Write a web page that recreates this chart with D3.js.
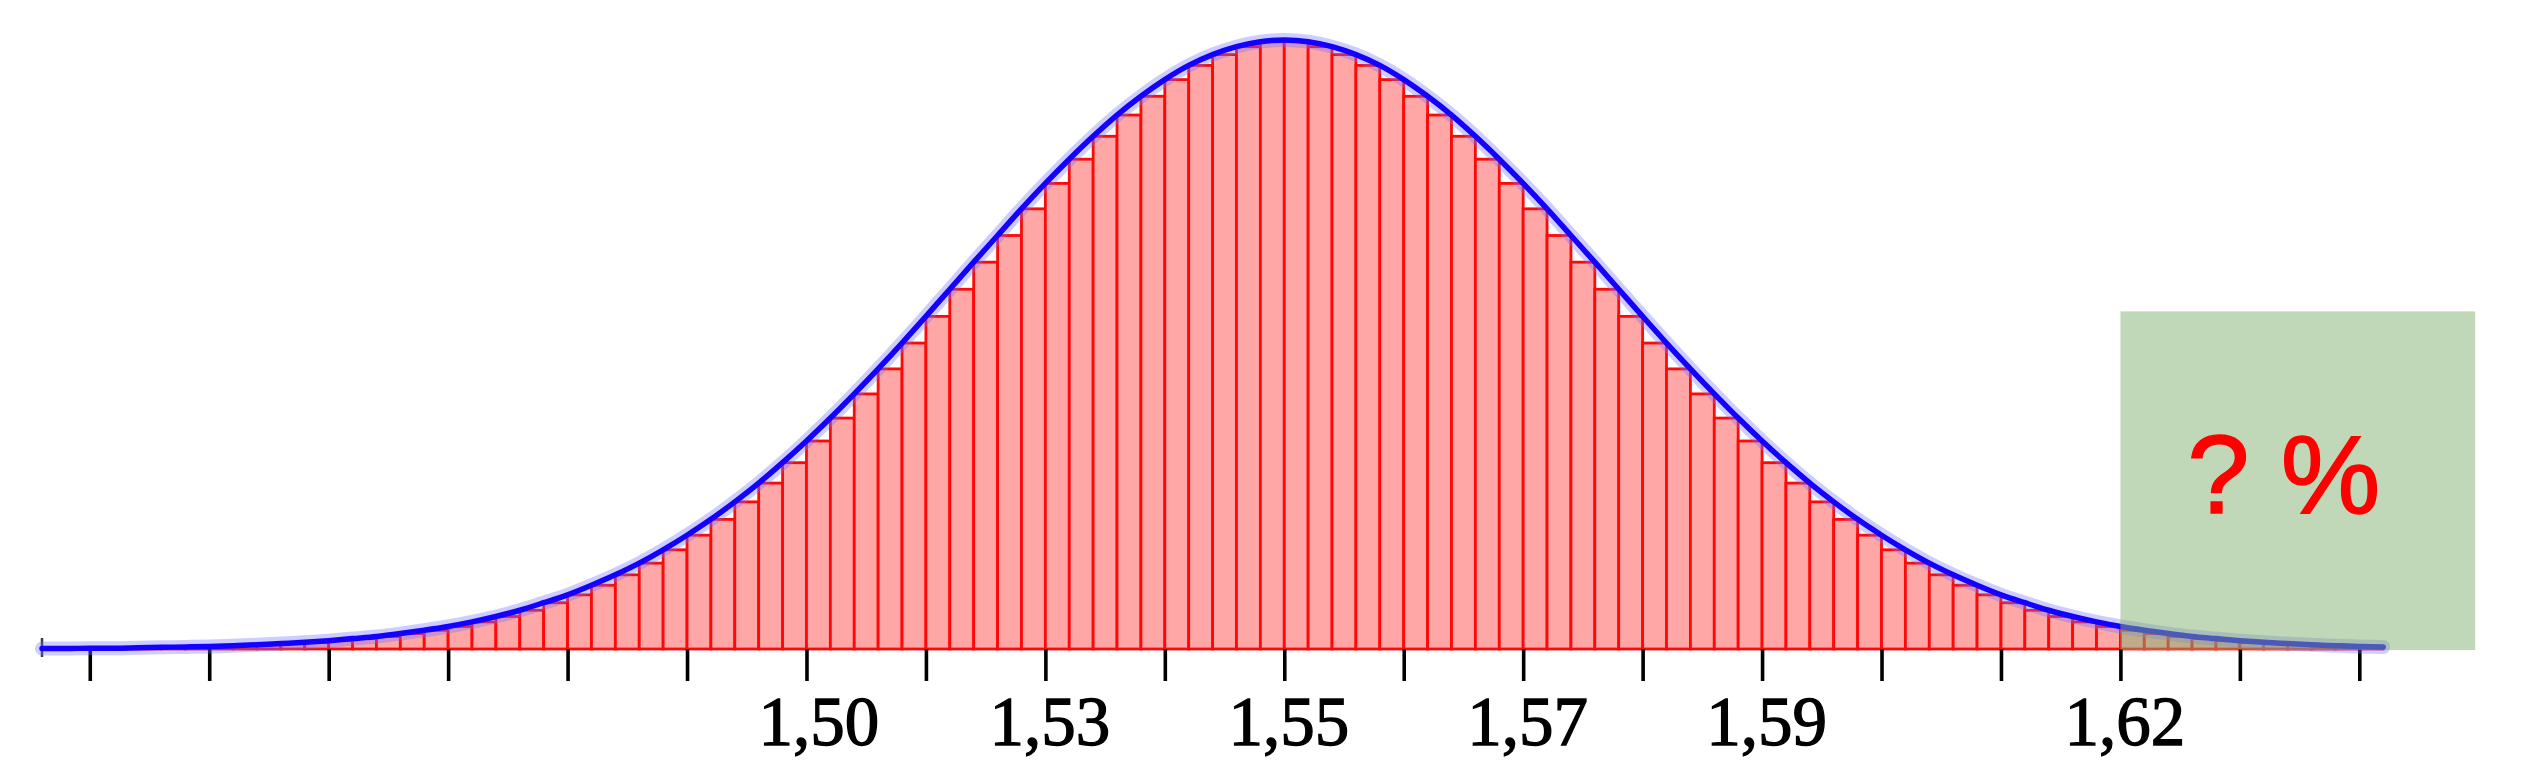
<!DOCTYPE html>
<html>
<head>
<meta charset="utf-8">
<script src="https://cdn.jsdelivr.net/npm/d3@7"></script>
<style>
body { margin:0; background:#fff; }
</style>
</head>
<body>
<div id="chart"></div>
<script>
// bin edges (value of the measured quantity)
var binEdges = [1.446,1.448,1.450,1.452,1.454,1.456,1.458,1.460,1.462,1.464,
	1.466,1.468,1.470,1.472,1.474,1.476,1.478,1.480,1.482,1.484,
	1.486,1.488,1.490,1.492,1.494,1.496,1.498,1.500,1.502,1.504,
	1.506,1.508,1.510,1.512,1.514,1.516,1.518,1.520,1.522,1.524,
	1.526,1.528,1.530,1.532,1.534,1.536,1.538,1.540,1.542,1.544,
	1.546,1.548,1.550,1.552,1.554,1.556,1.558,1.560,1.562,1.564,
	1.566,1.568,1.570,1.572,1.574,1.576,1.578,1.580,1.582,1.584,
	1.586,1.588,1.590,1.592,1.594,1.596,1.598,1.600,1.602,1.604,
	1.606,1.608,1.610,1.612,1.614,1.616,1.618,1.620,1.622,1.624,
	1.626,1.628,1.630,1.632,1.634,1.636,1.638,1.640,1.642];

// bar heights (density), one per bin
var barDensity = [0.01,0.01,0.02,0.02,0.03,0.04,0.05,0.06,0.08,0.10,
	0.13,0.16,0.20,0.25,0.30,0.37,0.45,0.54,0.65,0.78,
	0.93,1.11,1.30,1.53,1.78,2.06,2.38,2.73,3.11,3.53,
	3.98,4.47,4.99,5.54,6.12,6.72,7.34,7.98,8.63,9.28,
	9.92,10.56,11.17,11.75,12.30,12.81,13.26,13.66,14.00,14.26,
	14.45,14.57,
	14.57,14.45,14.26,14.00,13.66,13.26,12.81,12.30,11.75,11.17,
	10.56,9.92,9.28,8.63,7.98,7.34,6.72,6.12,5.54,4.99,
	4.47,3.98,3.53,3.11,2.73,2.38,2.06,1.78,1.53,1.30,
	1.11,0.93,0.78,0.65,0.54,0.45,0.37,0.30,0.25,0.20,
	0.16,0.13,0.10,0.08,0.06,0.05];

// curve density at each bin edge
var curveDensity = [0.01,0.01,0.02,0.02,0.03,0.04,0.05,0.06,0.08,0.10,
	0.13,0.16,0.20,0.25,0.30,0.37,0.45,0.54,0.65,0.78,
	0.93,1.11,1.30,1.53,1.78,2.06,2.38,2.73,3.11,3.53,
	3.98,4.47,4.99,5.54,6.12,6.72,7.34,7.98,8.63,9.28,
	9.92,10.56,11.17,11.75,12.30,12.81,13.26,13.66,14.00,14.26,
	14.45,14.57,14.61,
	14.57,14.45,14.26,14.00,13.66,13.26,12.81,12.30,11.75,11.17,
	10.56,9.92,9.28,8.63,7.98,7.34,6.72,6.12,5.54,4.99,
	4.47,3.98,3.53,3.11,2.73,2.38,2.06,1.78,1.53,1.30,
	1.11,0.93,0.78,0.65,0.54,0.45,0.37,0.30,0.25,0.20,
	0.16,0.13,0.10,0.08,0.06,0.05];

var tickVals = [1.45,1.46,1.47,1.48,1.49,1.50,1.51,1.52,1.53,1.54,
	1.55,1.56,1.57,1.58,1.59,1.60,1.61,1.62,1.63,1.64];
var labelAt = [1.51,1.53,1.55,1.57,1.59,1.62];
var labelText = ["1,50","1,53","1,55","1,57","1,59","1,62"];

// shaded tail
var shadeFrom = 1.62, shadeTo = 1.6497, shadeTop = 8.1;
var shadeText = "? %";

function draw_chart(id) {
	var W = 2548, H = 774;
	var svg = d3.select(id).append('svg')
		.attr('width', W).attr('height', H)
		.style('display', 'block');

	var x = d3.scaleLinear().domain([1.446, 1.642]).range([42, 2383.2]);
	var y = d3.scaleLinear().domain([0, 14.61]).range([649, 40]);

	// bars
	svg.append('g').selectAll('rect')
		.data(barDensity)
		.enter().append('rect')
		.attr('x', function(d, i) { return x(binEdges[i]); })
		.attr('width', function(d, i) { return x(binEdges[i+1]) - x(binEdges[i]); })
		.attr('y', function(d) { return y(d); })
		.attr('height', function(d) { return y(0) - y(d); })
		.attr('fill', '#ffa6a6')
		.attr('stroke', '#ff0808')
		.attr('stroke-width', 2.8);

	// axis
	var axis = d3.axisBottom(x)
		.tickValues(tickVals)
		.tickSize(32)
		.tickPadding(15)
		.tickFormat(function(d) {
			var k = labelAt.indexOf(d);
			return k < 0 ? "" : labelText[k];
		});
	var gx = svg.append('g').attr('transform', 'translate(0,' + y(0) + ')').call(axis);
	gx.select('.domain').remove();
	gx.selectAll('.tick line').attr('stroke', '#000').attr('stroke-width', 3.6);
	gx.selectAll('.tick text')
		.attr('fill', '#000')
		.attr('stroke', '#000')
		.attr('stroke-width', 1.3)
		.attr('dx', function(d) { return d === 1.51 ? 12 : 4; })
		.style('font-family', '"Liberation Serif", "DejaVu Serif", serif')
		.style('font-size', '69px');

	// little cap at the left end
	svg.append('line')
		.attr('x1', x.range()[0]).attr('x2', x.range()[0])
		.attr('y1', y(0) - 11).attr('y2', y(0) + 8)
		.attr('stroke', '#3a3a3a').attr('stroke-width', 2.5);

	// normal curve with soft halo
	var line = d3.line()
		.x(function(d, i) { return x(binEdges[i]); })
		.y(function(d) { return y(d); })
		.curve(d3.curveMonotoneX);
	svg.append('path').datum(curveDensity)
		.attr('d', line).attr('fill', 'none')
		.attr('stroke', '#7070ff').attr('stroke-opacity', 0.35)
		.attr('stroke-width', 14).attr('stroke-linecap', 'round');
	svg.append('path').datum(curveDensity)
		.attr('d', line).attr('fill', 'none')
		.attr('stroke', '#1400ff').attr('stroke-width', 5.5)
		.attr('stroke-linecap', 'round');

	// green tail box
	svg.append('rect')
		.attr('x', x(shadeFrom))
		.attr('width', x(shadeTo) - x(shadeFrom))
		.attr('y', y(shadeTop))
		.attr('height', y(0) + 1 - y(shadeTop))
		.attr('fill', 'rgb(130,178,112)')
		.attr('fill-opacity', 0.5);

	svg.append('text')
		.attr('x', (x(shadeFrom) + x(shadeTo)) / 2 - 14)
		.attr('y', y(shadeTop) + 202)
		.attr('text-anchor', 'middle')
		.attr('fill', '#ff0000')
		.attr('stroke', '#ff0000')
		.attr('stroke-width', 1.5)
		.style('font-family', '"Liberation Sans", Arial, sans-serif')
		.style('font-size', '112px')
		.text(shadeText);
}

draw_chart('#chart');
</script>
</body>
</html>
